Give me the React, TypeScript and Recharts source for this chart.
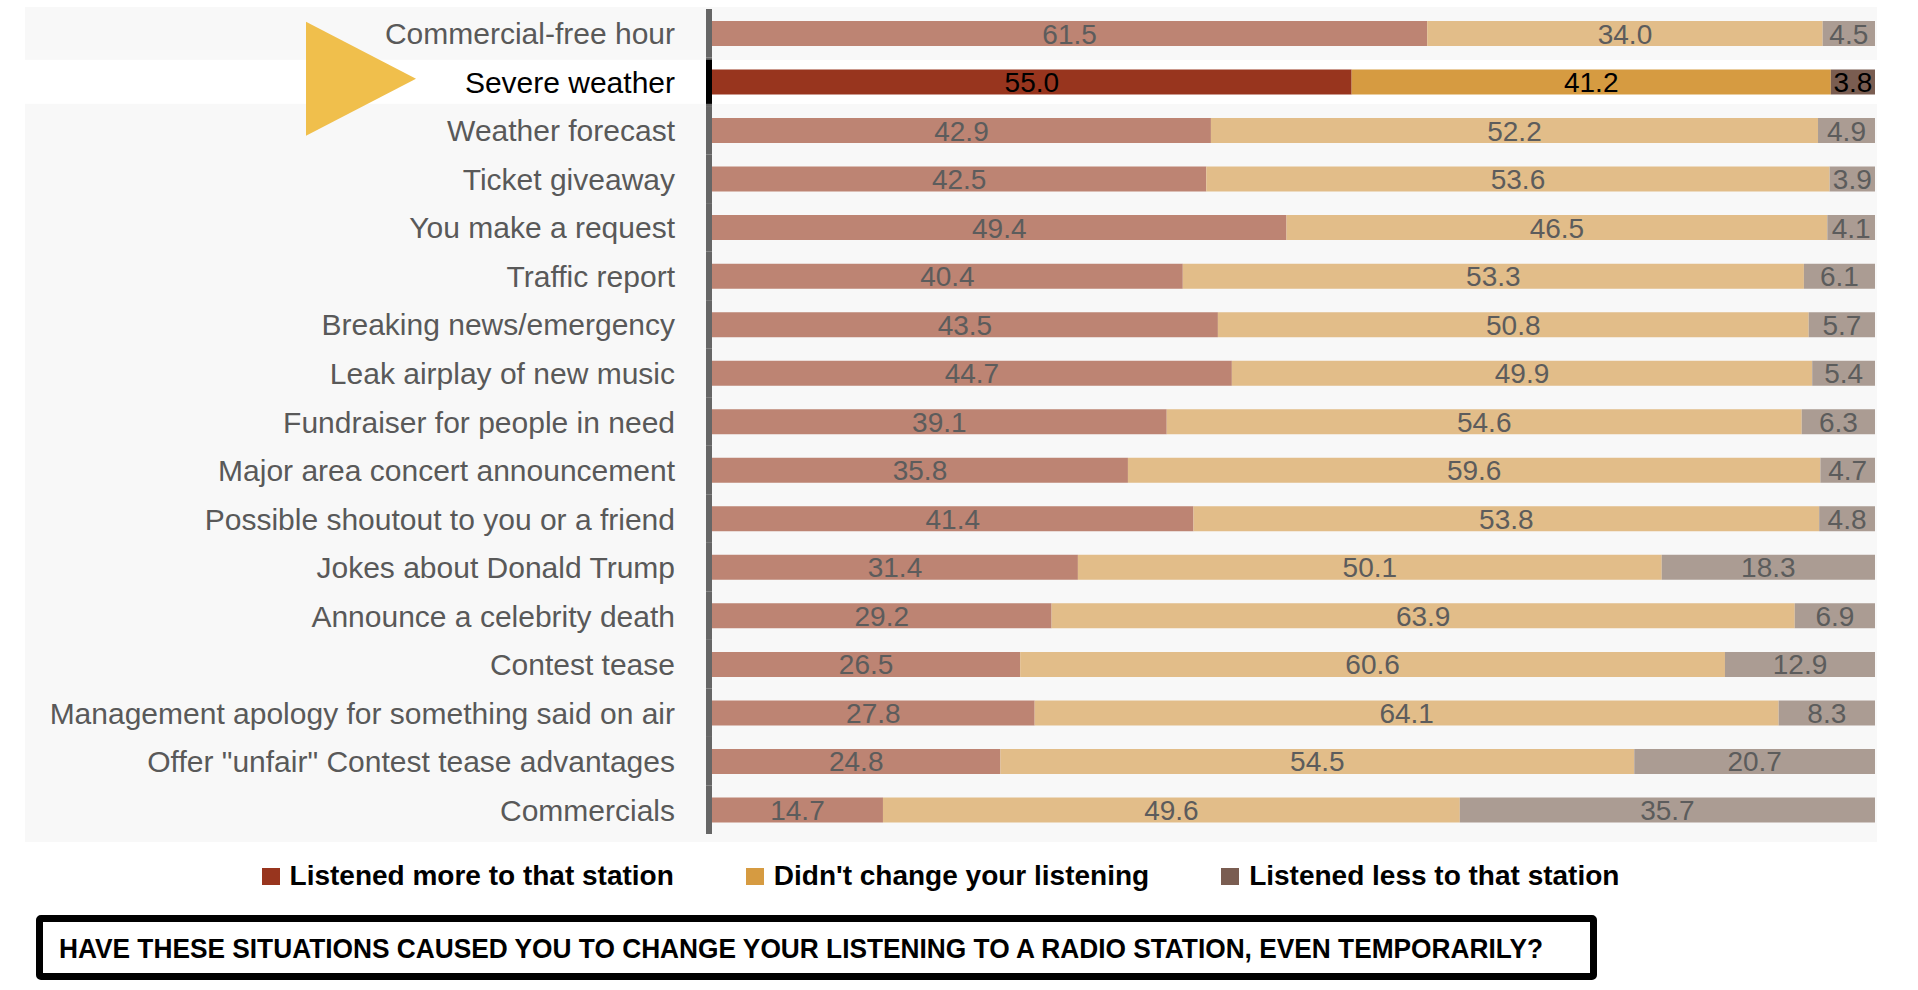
import React from 'react';
import { BarChart, Bar, XAxis, YAxis, LabelList, Legend, Cell } from 'recharts';

// categories, top to bottom
const categories = [
  'Commercial-free hour',
  'Severe weather',
  'Weather forecast',
  'Ticket giveaway',
  'You make a request',
  'Traffic report',
  'Breaking news/emergency',
  'Leak airplay of new music',
  'Fundraiser for people in need',
  'Major area concert announcement',
  'Possible shoutout to you or a friend',
  'Jokes about Donald Trump',
  'Announce a celebrity death',
  'Contest tease',
  'Management apology for something said on air',
  'Offer "unfair" Contest tease advantages',
  'Commercials',
];

const listenedMore = [61.5, 55.0, 42.9, 42.5, 49.4, 40.4, 43.5, 44.7, 39.1, 35.8, 41.4, 31.4, 29.2, 26.5, 27.8, 24.8, 14.7];
const noChange = [34.0, 41.2, 52.2, 53.6, 46.5, 53.3, 50.8, 49.9, 54.6, 59.6, 53.8, 50.1, 63.9, 60.6, 64.1, 54.5, 49.6];
const listenedLess = [4.5, 3.8, 4.9, 3.9, 4.1, 6.1, 5.7, 5.4, 6.3, 4.7, 4.8, 18.3, 6.9, 12.9, 8.3, 20.7, 35.7];

const seriesNames = ['Listened more to that station', "Didn't change your listening", 'Listened less to that station'];
const highlight = 'Severe weather';
const question = 'HAVE THESE SITUATIONS CAUSED YOU TO CHANGE YOUR LISTENING TO A RADIO STATION, EVEN TEMPORARILY?';

const data = categories.map((name, i) => ({
  name,
  more: listenedMore[i],
  same: noChange[i],
  less: listenedLess[i],
}));

const FONT = '"Liberation Sans", Arial, sans-serif';
const mutedColors = ['#bd8473', '#e2bd89', '#ab9c93'];
const hotColors = ['#98351e', '#d69b41', '#7a5d51'];

const CHART_W = 1918;
const CHART_H = 900;
const MARGIN = { top: 9, right: 43, bottom: 66, left: 0 };
const AXIS_W = 712;
const ROW = (CHART_H - MARGIN.top - MARGIN.bottom) / categories.length;

function CategoryTick(props: any) {
  const { x, y, payload } = props;
  const hot = payload.value === highlight;
  return (
    <g transform={`translate(${x},${y})`}>
      {hot && <rect x={25 - x} y={-22} width={x - 6 - 25} height={44} fill="#ffffff" />}
      {hot && (
        <polygon points={`${306 - x},-60 ${306 - x},54 ${416 - x},-3`} fill="#f0bf4c" />
      )}
      <rect x={-6} y={-ROW / 2} width={6} height={ROW} fill="#666666" />
      {hot && <rect x={-6} y={-22} width={6} height={44} fill="#000000" />}
      <text
        x={-37}
        y={0}
        dy={11}
        textAnchor="end"
        fontFamily={FONT}
        fontSize={30}
        fill={hot ? '#000000' : '#595959'}
      >
        {payload.value}
      </text>
    </g>
  );
}

function ValueLabel(props: any) {
  const vb = props.viewBox ?? props;
  const { x, y, width, height } = vb;
  const hot = categories[props.index] === highlight;
  return (
    <text
      x={x + width / 2}
      y={y + height / 2}
      dy={10}
      textAnchor="middle"
      fontFamily={FONT}
      fontSize={28}
      fill={hot ? '#000000' : '#5c5c5c'}
    >
      {Number(props.value).toFixed(1)}
    </text>
  );
}

function RowBackground(props: any) {
  if (categories[props.index] !== highlight) return <g key={`bg-${props.index}`} />;
  return (
    <rect
      key={`bg-${props.index}`}
      x={props.x}
      y={props.y + props.height / 2 - 22}
      width={props.width + 2}
      height={44}
      fill="#ffffff"
    />
  );
}

function LegendContent() {
  return (
    <div
      style={{
        display: 'flex',
        justifyContent: 'center',
        gap: 72,
        fontFamily: FONT,
        fontWeight: 700,
        fontSize: 28,
        color: '#000',
        lineHeight: '32px',
      }}
    >
      {seriesNames.map((n, i) => (
        <div key={n} style={{ display: 'flex', alignItems: 'center' }}>
          <span style={{ width: 18, height: 17, background: hotColors[i], marginRight: 10, display: 'inline-block' }} />
          <span>{n}</span>
        </div>
      ))}
    </div>
  );
}

export default function App() {
  const keys = ['more', 'same', 'less'];
  return (
    <div style={{ position: 'absolute', left: 0, top: 0, width: 1918, height: 990, background: '#ffffff' }}>
      <div style={{ position: 'absolute', left: 25, top: 7, width: 1852, height: 835, background: '#f8f8f8' }} />
      <div style={{ position: 'absolute', left: 0, top: 0 }}>
        <BarChart
          width={CHART_W}
          height={CHART_H}
          data={data}
          layout="vertical"
          stackOffset="expand"
          margin={MARGIN}
        >
          <XAxis type="number" domain={[0, 1]} hide />
          <YAxis
            type="category"
            dataKey="name"
            width={AXIS_W}
            axisLine={false}
            tickLine={false}
            tickSize={0}
            tickMargin={0}
            interval={0}
            tick={<CategoryTick />}
          />
          <Legend verticalAlign="middle" wrapperStyle={{ top: 860, left: 0, width: 1881 }} content={<LegendContent />} />
          {keys.map((k, si) => (
            <Bar
              key={k}
              dataKey={k}
              name={seriesNames[si]}
              stackId="a"
              barSize={25}
              fill={mutedColors[si]}
              isAnimationActive={false}
              background={si === 0 ? (p: any) => <RowBackground {...p} /> : undefined}
            >
              {data.map((d) => (
                <Cell key={d.name} fill={d.name === highlight ? hotColors[si] : mutedColors[si]} />
              ))}
              <LabelList dataKey={k} content={(p: any) => <ValueLabel {...p} />} />
            </Bar>
          ))}
        </BarChart>
      </div>
      <div
        style={{
          position: 'absolute',
          left: 36,
          top: 915,
          width: 1561,
          height: 65,
          border: '7px solid #000',
          borderRadius: 5,
          boxSizing: 'border-box',
          background: '#fff',
        }}
      >
        <svg width={1547} height={51} style={{ display: 'block' }}>
          <text
            x={16}
            y={36}
            fontFamily={FONT}
            fontWeight={700}
            fontSize={27}
            textLength={1484}
            lengthAdjust="spacingAndGlyphs"
            fill="#000"
          >
            {question}
          </text>
        </svg>
      </div>
    </div>
  );
}
